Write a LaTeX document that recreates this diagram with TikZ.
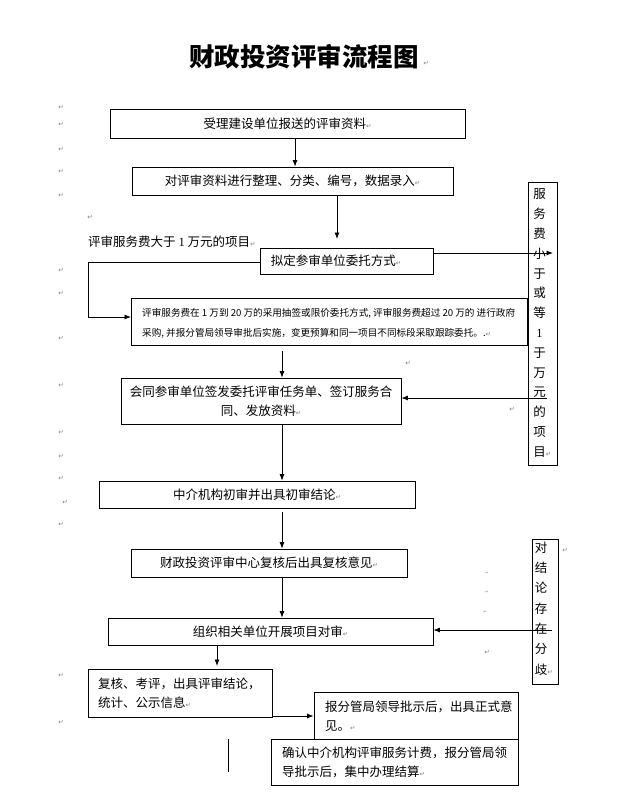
\documentclass[tikz,border=0pt]{standalone}
\usepackage{fontspec}
\usetikzlibrary{arrows.meta}
\newfontfamily\cjk{Noto Sans CJK SC}
\newfontfamily\lat{Liberation Serif}
\newfontfamily\dvs{DejaVu Sans}
\newcommand\retm{{\dvs\fontsize{6.5}{6.5}\selectfont\textcolor{gray}{↵}}}
\begin{document}
\begin{tikzpicture}[x=1pt,y=-1pt,
  box/.style={draw, line width=0.8pt, inner sep=0pt, font=\cjk\fontsize{12.5}{19}\selectfont, align=center},
  txt/.style={inner sep=0pt, font=\cjk\fontsize{12.5}{19}\selectfont, align=left},
  small/.style={inner sep=0pt, font=\cjk\fontsize{9.6}{20}\selectfont, align=left},
  col/.style={inner sep=0pt, font=\cjk\fontsize{12.5}{19.8}\selectfont, align=center},
  conn/.style={line width=0.8pt},
  arr/.style={conn, -{Latex[length=6.5pt,width=5pt]}},
  mk/.style={inner sep=0pt, font=\dvs\fontsize{6.5}{6.5}\selectfont, text=gray},
  tiny/.style={inner sep=0pt, font=\dvs\fontsize{4}{4}\selectfont, text=gray}
]
\useasboundingbox (0,0) rectangle (640,793);
\fill[white] (0,0) rectangle (640,793);

% title
\node[inner sep=0pt, font=\cjk\bfseries\fontsize{25.5}{26}\selectfont] (title) at (304,56.5) {财政投资评审流程图};
\node[mk] (m0) at (426,63) {↵};

% boxes
\node[box, minimum width=355pt, minimum height=29pt] (b1) at (287.5,123.5) {受理建设单位报送的评审资料\retm};
\node[box, minimum width=321pt, minimum height=28pt] (b2) at (292.5,181) {对评审资料进行整理、分类、编号，数据录入\retm};
\node[box, minimum width=173pt, minimum height=26pt] (b3) at (346.5,261) {};
\node[txt, anchor=west] (t3) at ([xshift=11pt]b3.west) {拟定参审单位委托方式\retm};
\node[txt, anchor=west] (lbl) at (88,242) {评审服务费大于 {\lat 1} 万元的项目\retm};

\node[box, minimum width=396pt, minimum height=47pt] (b4) at (329,321.5) {};
\node[small, anchor=west] (t4) at (142,323) {评审服务费在 1 万到 20 万的采用抽签或限价委托方式, 评审服务费超过 20 万的 进行政府\\采购, 并报分管局领导审批后实施，变更预算和同一项目不同标段采取跟踪委托。.\retm};

\node[box, minimum width=280pt, minimum height=46pt] (b5) at (261,401) {会同参审单位签发委托评审任务单、签订服务合\\同、发放资料\retm};
\node[box, minimum width=316pt, minimum height=27pt] (b6) at (257,494.5) {中介机构初审并出具初审结论\retm};
\node[box, minimum width=276pt, minimum height=28pt] (b7) at (269,563) {财政投资评审中心复核后出具复核意见\retm};
\node[box, minimum width=325pt, minimum height=27pt] (b8) at (270.5,631.5) {组织相关单位开展项目对审\retm};

\node[box, minimum width=184pt, minimum height=48pt] (b9) at (180,693) {};
\node[txt, anchor=west] (t9) at (98,693.5) {复核、考评，出具评审结论，\\统计、公示信息\retm};
\node[box, minimum width=204pt, minimum height=47pt] (b10) at (416,715.5) {};
\node[txt, anchor=west] (t10) at (325,716.5) {报分管局领导批示后，出具正式意\\见。\retm};
\node[box, minimum width=247pt, minimum height=46pt, fill=white] (b11) at (394.5,762) {};
\node[txt, anchor=west] (t11) at (282,762.5) {确认中介机构评审服务计费，报分管局领\\导批示后，集中办理结算\retm};

% right column boxes
\node[box, minimum width=29pt, minimum height=283pt] (r1) at (542.5,323.5) {};
\node[col] (tr1) at (539.5,323) {服\\务\\费\\小\\于\\或\\等\\{\lat 1}\\于\\万\\元\\的\\项\\目\rlap{\retm}};
\node[box, minimum width=26pt, minimum height=145pt] (r2) at (545,611.5) {};
\node[col, font=\cjk\fontsize{12.5}{20.3}\selectfont] (tr2) at (541,608.5) {对\\结\\论\\存\\在\\分\\歧\rlap{\retm}};
\node[mk] (m2) at (565,550) {↵};

% connectors
\coordinate (x295) at (295,0);
\draw[arr] (b1.south -| x295) -- (b2.north -| x295);
\coordinate (a2e) at (337,239);
\draw[arr] (b2.south -| a2e) -- (a2e);
\coordinate (r1in) at (553,253);
\draw[arr] (b3.east |- r1in) -- (r1in);
\coordinate (lc) at (88,262);
\coordinate (b4in) at (131,317);
\draw[arr] (b3.west |- lc) -- (lc) |- (b4in);
\coordinate (a5s) at (282,351);
\draw[arr] (a5s) -- (b5.north -| a5s);
\coordinate (r1out) at (547,398);
\draw[arr] (r1out) -- (b5.east |- r1out);
\draw[arr] (b5.south -| a5s) -- (b6.north -| a5s);
\coordinate (a8s) at (282,512);
\draw[arr] (a8s) -- (b7.north -| a8s);
\draw[arr] (b7.south -| a8s) -- (b8.north -| a8s);
\coordinate (r2out) at (552,630);
\draw[arr] (r2out) -- (b8.east |- r2out);
\coordinate (a11e) at (217,666);
\draw[arr] (b8.south -| a11e) -- (a11e);
\coordinate (y716) at (0,716);
\draw[arr] (b9.east |- y716) -- (b10.west |- y716);
\coordinate (v1) at (228,739);
\coordinate (v2) at (228,772);
\draw[conn] (v1) -- (v2);

% paragraph marks
\foreach \yy in {107,124,149,171,195,270,293,338,385,432,456,478,524,675,722}
  \node[mk] at (61,\yy) {↵};
\node[mk] at (65,502) {↵};
\node[mk] at (90,217) {↵};
\node[mk] at (408,363) {↵};
\node[mk] at (512,409) {↵};
\node[mk] at (487,652) {↵};
\node[tiny] at (487,573) {↵};
\node[tiny] at (487,592) {↵};
\node[tiny] at (485,612) {↵};
\end{tikzpicture}
\end{document}
